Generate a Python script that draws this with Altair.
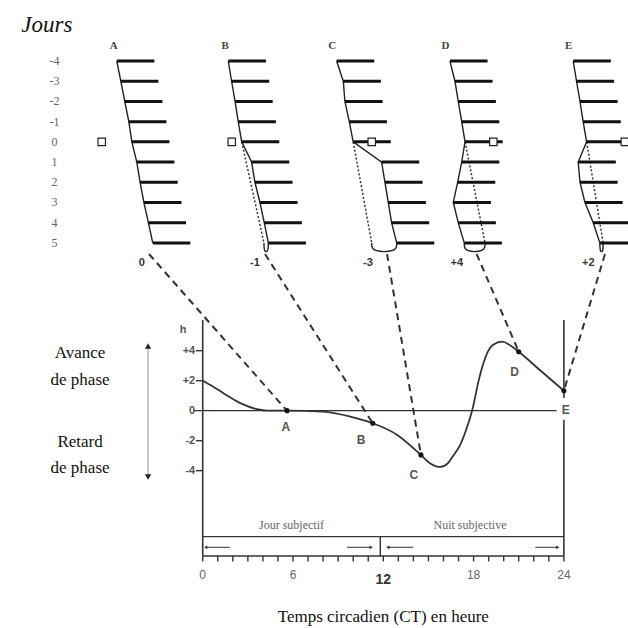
import altair as alt
import pandas as pd

# ---------------- phase response curve (CT hours -> phase shift, h) ----------------
prc_ct = [0.0, 0.7, 1.4, 2.5, 3.6, 4.3, 5.6, 8.0, 9.8, 11.3, 12.9, 14.5, 15.1,
          15.8, 16.3, 16.6, 17.1, 17.5, 17.9, 18.4, 18.9, 19.3, 19.9, 20.4,
          21.0, 22.4, 24.0]
prc_shift = [2.0, 1.6, 1.15, 0.5, 0.1, 0.0, 0.0, -0.07, -0.4, -0.84, -1.6,
             -2.95, -3.5, -3.75, -3.5, -3.07, -2.3, -1.29, 0.0, 2.27, 3.83,
             4.4, 4.6, 4.38, 3.93, 2.71, 1.33]

# light pulses given at five circadian times
pulse_names = ["A", "B", "C", "D", "E"]
pulse_ct = [5.6, 11.3, 14.5, 21.0, 24.0]
pulse_shift = [0.0, -0.84, -2.95, 3.93, 1.33]
shift_labels = ["0", "-1", "-3", "+4", "+2"]

# ---------------- actograms: activity onset (h) for each day ----------------
days = [-4, -3, -2, -1, 0, 1, 2, 3, 4, 5]
onset_a = [0.0, 0.27, 0.53, 0.8, 1.0, 1.33, 1.55, 1.8, 2.1, 2.39]
onset_b = [0.0, 0.22, 0.45, 0.66, 0.89, 1.55, 1.77, 2.1, 2.39, 2.66]
onset_c = [0.0, 0.44, 0.55, 0.84, 1.1, 2.99, 3.21, 3.43, 3.65, 3.99]
onset_d = [0.0, 0.33, 0.55, 0.78, 1.0, 0.78, 0.51, 0.22, 0.55, 0.95]
onset_e = [0.0, 0.22, 0.45, 0.66, 0.89, 0.33, 0.45, 0.78, 1.33, 1.77]
onsets = [onset_a, onset_b, onset_c, onset_d, onset_e]
# onset expected on day 5 without the pulse
projected_day5 = [2.39, 2.37, 2.33, 2.33, 1.99]
# time of the light pulse on day 0
pulse_clock = [-1.0, 0.23, 2.33, 2.88, 3.43]
activity_h = 2.5

# axis labels
y_ticks = [4, 2, 0, -2, -4]
y_tick_text = ["+4", "+2", "0", "-2", "-4"]
x_ticks = [0, 6, 18, 24]
hour_ticks = list(range(25))

# ---------------- layout (drawing frame: x in CT h, y in phase h) ----------------
X_DOMAIN = [-13.47, 28.26]
Y_DOMAIN = [-14.49, 27.38]
PANEL_X = [-5.71, 1.70, 8.90, 16.43, 24.62]
ROW_TOP, ROW_STEP = 23.31, 1.347
LETTER_DX = [-0.2, -0.2, -0.3, -0.3, -0.3]
SHIFT_LABEL_DX = [1.66, 1.77, 2.08, 0.45, 1.0]
CONNECTOR_DX = [2.14, 2.44, 3.35, 1.77, 2.11]
POINT_LABEL_DX = [-0.07, -0.77, -0.47, -0.27, 0.13]
POINT_LABEL_DY = [-1.07, -1.13, -1.33, -1.33, -1.27]
BOX_TOP, BOX_BOTTOM, DIVIDER = -8.4, -9.69, 11.8
ARROW_Y = -9.11
ARROW_FROM = [1.8, 9.6, 14.0, 22.1]
ARROW_TO = [0.2, 11.2, 12.3, 23.6]

SERIF = "Liberation Serif"
SANS = "Liberation Sans"


def row_y(day):
    return ROW_TOP - (day + 4) * ROW_STEP


xs = alt.Scale(domain=X_DOMAIN, nice=False, zero=False)
ys = alt.Scale(domain=Y_DOMAIN, nice=False, zero=False)
X = alt.X("x:Q", scale=xs, axis=None)
Y = alt.Y("y:Q", scale=ys, axis=None)

# ----- actogram tables -----
bars, onset_pts, proj_pts, hook_pts, squares = [], [], [], [], []
for i, name in enumerate(pulse_names):
    ox = PANEL_X[i]
    for k, (d, o) in enumerate(zip(days, onsets[i])):
        bars.append(dict(x=ox + o, x2=ox + o + activity_h, y=row_y(d)))
        onset_pts.append(dict(panel=name, seq=k, x=ox + o, y=row_y(d)))
    squares.append(dict(x=ox + pulse_clock[i], y=row_y(0)))
    if i > 0:
        o0 = onsets[i][days.index(0)]
        o5 = onsets[i][-1]
        p5 = projected_day5[i]
        proj_pts += [dict(panel=name, seq=0, x=ox + o0, y=row_y(0)),
                     dict(panel=name, seq=1, x=ox + p5, y=row_y(5))]
        hook_pts += [dict(panel=name, seq=0, x=ox + o5, y=row_y(5)),
                     dict(panel=name, seq=1, x=ox + o5, y=row_y(5.45)),
                     dict(panel=name, seq=2, x=ox + p5, y=row_y(5.45)),
                     dict(panel=name, seq=3, x=ox + p5, y=row_y(5))]

bars_df = pd.DataFrame(bars)
onset_df = pd.DataFrame(onset_pts)
proj_df = pd.DataFrame(proj_pts)
hook_df = pd.DataFrame(hook_pts)
square_df = pd.DataFrame(squares)

bar_layer = alt.Chart(bars_df).mark_rule(color="#111", strokeWidth=3).encode(
    x=X, x2="x2:Q", y=Y)
onset_layer = alt.Chart(onset_df).mark_line(color="#222", strokeWidth=1.4).encode(
    x=X, y=Y, detail="panel:N", order="seq:Q")
proj_layer = alt.Chart(proj_df).mark_line(
    color="#333", strokeWidth=1.5, strokeDash=[2, 2]).encode(
    x=X, y=Y, detail="panel:N", order="seq:Q")
hook_layer = alt.Chart(hook_df).mark_line(
    color="#222", strokeWidth=1.4, interpolate="basis").encode(
    x=X, y=Y, detail="panel:N", order="seq:Q")
square_layer = alt.Chart(square_df).mark_point(
    shape="square", size=55, filled=True, fill="white", stroke="#222",
    strokeWidth=1.2, opacity=1).encode(x=X, y=Y)

# ----- connectors from actograms to the curve -----
conn = []
for i, name in enumerate(pulse_names):
    conn += [dict(panel=name, seq=0, x=PANEL_X[i] + CONNECTOR_DX[i], y=row_y(5.55)),
             dict(panel=name, seq=1, x=pulse_ct[i], y=pulse_shift[i])]
conn_layer = alt.Chart(pd.DataFrame(conn)).mark_line(
    color="#333", strokeWidth=2, strokeDash=[7, 5]).encode(
    x=X, y=Y, detail="panel:N", order="seq:Q")

# ----- phase response curve -----
prc_df = pd.DataFrame(dict(x=prc_ct, y=prc_shift))
prc_layer = alt.Chart(prc_df).mark_line(
    color="#333", strokeWidth=1.8, interpolate="monotone").encode(x=X, y=Y)
pts_df = pd.DataFrame(dict(x=pulse_ct, y=pulse_shift))
pts_layer = alt.Chart(pts_df).mark_circle(color="#111", size=26, opacity=1).encode(x=X, y=Y)

# ----- axes, box and arrows drawn as segments -----
segs = [
    dict(x=0, y=6.05, x2=0, y2=BOX_BOTTOM, w=1.6),
    dict(x=24, y=6.05, x2=24, y2=0.85, w=1.6),
    dict(x=24, y=-0.6, x2=24, y2=BOX_BOTTOM, w=1.6),
    dict(x=-0.64, y=0, x2=23.52, y2=0, w=1.3),
    dict(x=0, y=BOX_TOP, x2=24, y2=BOX_TOP, w=1.3),
    dict(x=0, y=BOX_BOTTOM, x2=24, y2=BOX_BOTTOM, w=1.6),
    dict(x=DIVIDER, y=BOX_TOP, x2=DIVIDER, y2=BOX_BOTTOM, w=1.4),
]
for v in y_ticks:
    if v != 0:
        segs.append(dict(x=-0.45, y=v, x2=0, y2=v, w=1.4))
for h in hour_ticks:
    segs.append(dict(x=h, y=BOX_BOTTOM, x2=h, y2=BOX_BOTTOM - 0.36, w=1.4))
for a, b in zip(ARROW_FROM, ARROW_TO):
    segs.append(dict(x=a, y=ARROW_Y, x2=b, y2=ARROW_Y, w=1.0))
seg_layer = alt.Chart(pd.DataFrame(segs)).mark_rule(color="#333").encode(
    x=X, y=Y, x2="x2:Q", y2="y2:Q", strokeWidth=alt.StrokeWidth("w:Q", scale=None))

heads_df = pd.DataFrame(dict(
    x=ARROW_TO, y=[ARROW_Y] * len(ARROW_TO),
    shape=["triangle-left" if b < a else "triangle-right" for a, b in zip(ARROW_FROM, ARROW_TO)]))
heads_layer = alt.Chart(heads_df).mark_point(
    filled=True, color="#333", size=14, opacity=1).encode(
    x=X, y=Y, shape=alt.Shape("shape:N", scale=None))

# vertical double arrow: advance up, delay down
dbl_df = pd.DataFrame(dict(x=[-3.63], y=[4.2], y2=[-4.3]))
dbl_layer = alt.Chart(dbl_df).mark_rule(color="#aaa", strokeWidth=1.3).encode(
    x=X, y=Y, y2="y2:Q")
dbl_heads = pd.DataFrame(dict(x=[-3.63, -3.63], y=[4.31, -4.42],
                              shape=["triangle-up", "triangle-down"]))
dbl_heads_layer = alt.Chart(dbl_heads).mark_point(
    filled=True, color="#222", size=40, opacity=1).encode(
    x=X, y=Y, shape=alt.Shape("shape:N", scale=None))


def texts(rows, font, size, color, weight="normal", style="normal", align="center"):
    return alt.Chart(pd.DataFrame(rows)).mark_text(
        font=font, fontSize=size, color=color, fontWeight=weight,
        fontStyle=style, align=align, baseline="middle").encode(
        x=X, y=Y, text="t:N")


layers = [
    dbl_layer, seg_layer, heads_layer, dbl_heads_layer,
    conn_layer, proj_layer, hook_layer, onset_layer, bar_layer, square_layer,
    prc_layer, pts_layer,
    texts([dict(x=-10.36, y=25.71, t="Jours")], SERIF, 23, "#111", style="italic"),
    texts([dict(x=-9.85, y=row_y(d), t=str(d)) for d in days], SERIF, 12, "#666"),
    texts([dict(x=PANEL_X[i] + LETTER_DX[i], y=row_y(-4.75), t=n)
           for i, n in enumerate(pulse_names)], SERIF, 11, "#444", weight="bold"),
    texts([dict(x=PANEL_X[i] + SHIFT_LABEL_DX[i], y=row_y(6.0), t=s)
           for i, s in enumerate(shift_labels)], SANS, 11, "#333", weight="bold"),
    texts([dict(x=pulse_ct[i] + POINT_LABEL_DX[i], y=pulse_shift[i] + POINT_LABEL_DY[i], t=n)
           for i, n in enumerate(pulse_names)], SANS, 12, "#555", weight="bold"),
    texts([dict(x=-0.5, y=v, t=t) for v, t in zip(y_ticks, y_tick_text)],
          SANS, 11, "#555", weight="bold", align="right"),
    texts([dict(x=-1.3, y=5.35, t="h")], SANS, 11, "#555", weight="bold"),
    texts([dict(x=v, y=-10.95, t=str(v)) for v in x_ticks], SANS, 12, "#666"),
    texts([dict(x=12, y=-11.29, t="12")], SANS, 14, "#333", weight="bold"),
    texts([dict(x=5.9, y=-7.62, t="Jour subjectif"),
           dict(x=17.76, y=-7.62, t="Nuit subjective")], SERIF, 12, "#666"),
    texts([dict(x=12, y=-13.75, t="Temps circadien (CT) en heure")], SERIF, 17, "#111"),
    texts([dict(x=-8.15, y=3.87, t="Avance"), dict(x=-8.15, y=2.05, t="de phase"),
           dict(x=-8.15, y=-2.07, t="Retard"), dict(x=-8.15, y=-3.8, t="de phase")],
          SERIF, 17, "#111"),
]

chart = alt.layer(*layers).properties(
    width=628, height=628,
    autosize=alt.AutoSizeParams(type="none"),
    padding=0,
).configure_view(stroke=None)

chart.save("out.html", embed_options={"renderer": "svg", "actions": False})
